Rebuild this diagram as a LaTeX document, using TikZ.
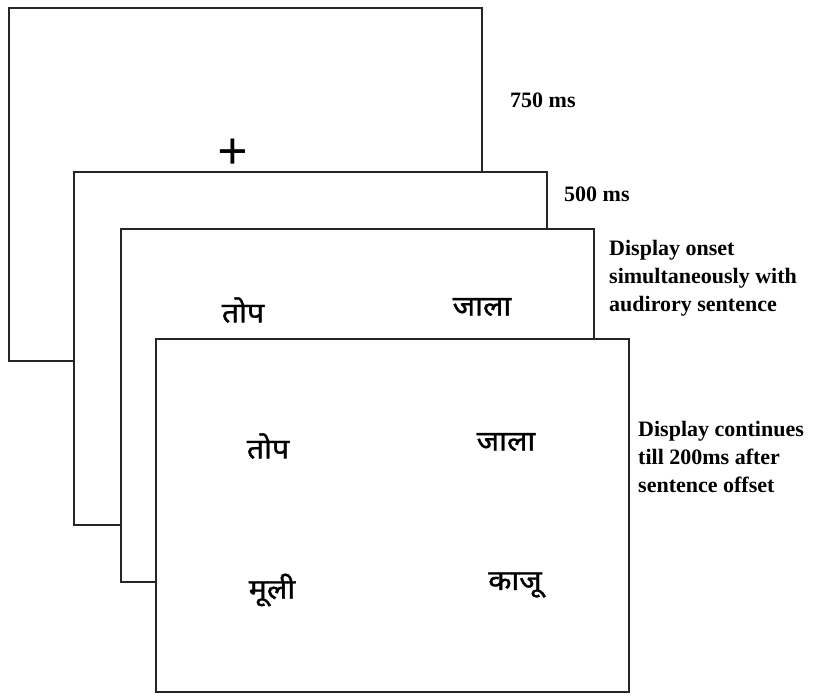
\documentclass[tikz,border=0pt]{standalone}
\usepackage{fontspec}
\setmainfont{Liberation Serif}
\newfontfamily\deva[Script=Devanagari,FakeBold=1.2]{Noto Sans}

\begin{document}
\begin{tikzpicture}[x=1pt,y=-1pt,
  screen/.style={draw=black!85, line width=1.8pt, fill=white,
    minimum width=473pt, minimum height=353pt, anchor=north west, inner sep=0pt},
  timing/.style={font=\fontsize{22}{28}\selectfont\bfseries,
    anchor=north west, align=left, inner sep=0pt},
  word/.style={font=\deva\fontsize{28}{30}\selectfont, inner sep=0pt, xscale=1.08}]
  \useasboundingbox (0,0) rectangle (813,696);

  % stacked screens, back to front
  \node[screen] (f1) at (8,7) {};
  \node[font=\fontsize{54}{56}\selectfont\bfseries, inner sep=0pt] (fix) at (233,154) {+};
  \node[screen] (f2) at (73,171) {};
  \node[screen] (f3) at (120,228) {};
  \node[word] (w31) at (243,310) {तोप};
  \node[word] (w32) at (482,307) {जाला};
  \node[screen] (f4) at (155,338) {};
  \node[word] (w41) at (268,446) {तोप};
  \node[word] (w42) at (506,442) {जाला};
  \node[word] (w43) at (272,590) {मूली};
  \node[word] (w44) at (515,585) {काजू};

  % timing labels
  \node[timing] (t1) at (510,93) {750 ms};
  \node[timing] (t2) at (564,187) {500 ms};
  \node[timing] (t3) at (609,240) {Display onset\\simultaneously with\\audirory sentence};
  \node[timing] (t4) at (638,421) {Display continues\\till 200ms after\\sentence offset};
\end{tikzpicture}
\end{document}
